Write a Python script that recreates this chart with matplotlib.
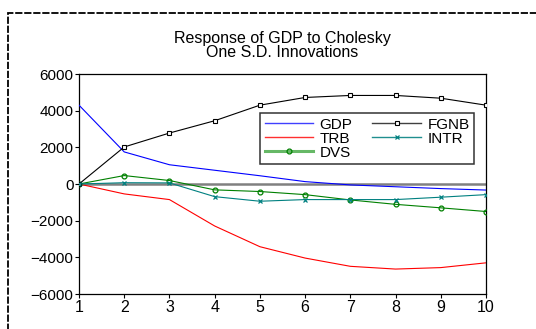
import matplotlib
matplotlib.use("Agg")
import matplotlib.pyplot as plt
from matplotlib.patches import Rectangle
from matplotlib.lines import Line2D

periods = [1, 2, 3, 4, 5, 6, 7, 8, 9, 10]
gdp = [4300, 1750, 1050, 750, 450, 130, -50, -150, -250, -330]
fgnb = [0, 2020, 2780, 3450, 4300, 4720, 4830, 4830, 4680, 4300]
trb = [0, -540, -850, -2290, -3420, -4040, -4490, -4640, -4560, -4300]
intr = [0, 70, 60, -690, -940, -850, -850, -850, -720, -580]
dvs = [0, 460, 190, -320, -410, -580, -870, -1110, -1300, -1500]
yticks = [-6000, -4000, -2000, 0, 2000, 4000, 6000]

plt.rcParams['font.family'] = ['Liberation Sans', 'DejaVu Sans']

fig = plt.figure(figsize=(5.36, 3.29), dpi=100)
fig.patches.append(Rectangle((8/536, -0.2), 1.2, 1.2 - 13/329, transform=fig.transFigure,
                             fill=False, edgecolor='black', linewidth=1.3,
                             linestyle=(0, (4, 1))))

ax = fig.add_axes([79/536, 1 - 294/329, (486 - 79)/536, (294 - 74)/329])
ax.axhline(0, color='#808080', linewidth=1.8, zorder=1)

ax.plot(periods, gdp, color='#0000ff', linewidth=0.8, label='GDP', zorder=3)
ax.plot(periods, trb, color='#ff0000', linewidth=0.8, label='TRB', zorder=3)
ax.plot(periods, dvs, color='#008000', linewidth=0.8, marker='o', markersize=3.5,
        markerfacecolor='none', markeredgewidth=0.9, label='DVS', zorder=3)
ax.plot(periods, fgnb, color='black', linewidth=0.8, marker='s', markersize=3.5,
        markerfacecolor='white', markeredgewidth=0.8, label='FGNB', zorder=3)
ax.plot(periods, intr, color='#008080', linewidth=0.8, marker='x', markersize=3.5,
        markeredgewidth=0.9, label='INTR', zorder=3)

ax.set_xlim(1, 10)
ax.set_ylim(-6000, 6000)
ax.set_xticks(periods)
ax.set_yticks(yticks)
ax.tick_params(axis='y', direction='out', length=3, width=0.8, labelsize=11, pad=1)
ax.tick_params(axis='x', direction='out', length=3, width=0.8, labelsize=11.5, pad=1)
for s in ax.spines.values():
    s.set_linewidth(0.9)

ax.set_title('Response of GDP to Cholesky\nOne S.D. Innovations', fontsize=11.5,
             linespacing=0.95, pad=12)

h_gdp = Line2D([], [], color='#4040ff', linewidth=1.0)
h_trb = Line2D([], [], color='#ff3030', linewidth=1.0)
h_dvs = Line2D([], [], color='#66b866', linewidth=2.2, marker='o', markersize=3.5,
               markerfacecolor='none', markeredgecolor='#008000', markeredgewidth=0.9)
h_fgnb = Line2D([], [], color='#404040', linewidth=1.0, marker='s', markersize=3.5,
                markerfacecolor='white', markeredgecolor='black', markeredgewidth=0.8)
h_intr = Line2D([], [], color='#208f8f', linewidth=1.0, marker='x', markersize=3.5,
                markeredgecolor='#008080', markeredgewidth=0.9)
leg = ax.legend([h_gdp, h_trb, h_dvs, h_fgnb, h_intr],
                ['GDP', 'TRB', 'DVS', 'FGNB', 'INTR'], ncol=2,
                loc='upper left', bbox_to_anchor=((260 - 79)/407, (294 - 113)/220),
                fontsize=11, frameon=True, fancybox=False, edgecolor='black',
                handlelength=3.2, handletextpad=0.4, columnspacing=1.3,
                labelspacing=0.0, borderpad=0.3, borderaxespad=0)
leg.get_frame().set_linewidth(1.1)

fig.savefig('out.png', dpi=100)
